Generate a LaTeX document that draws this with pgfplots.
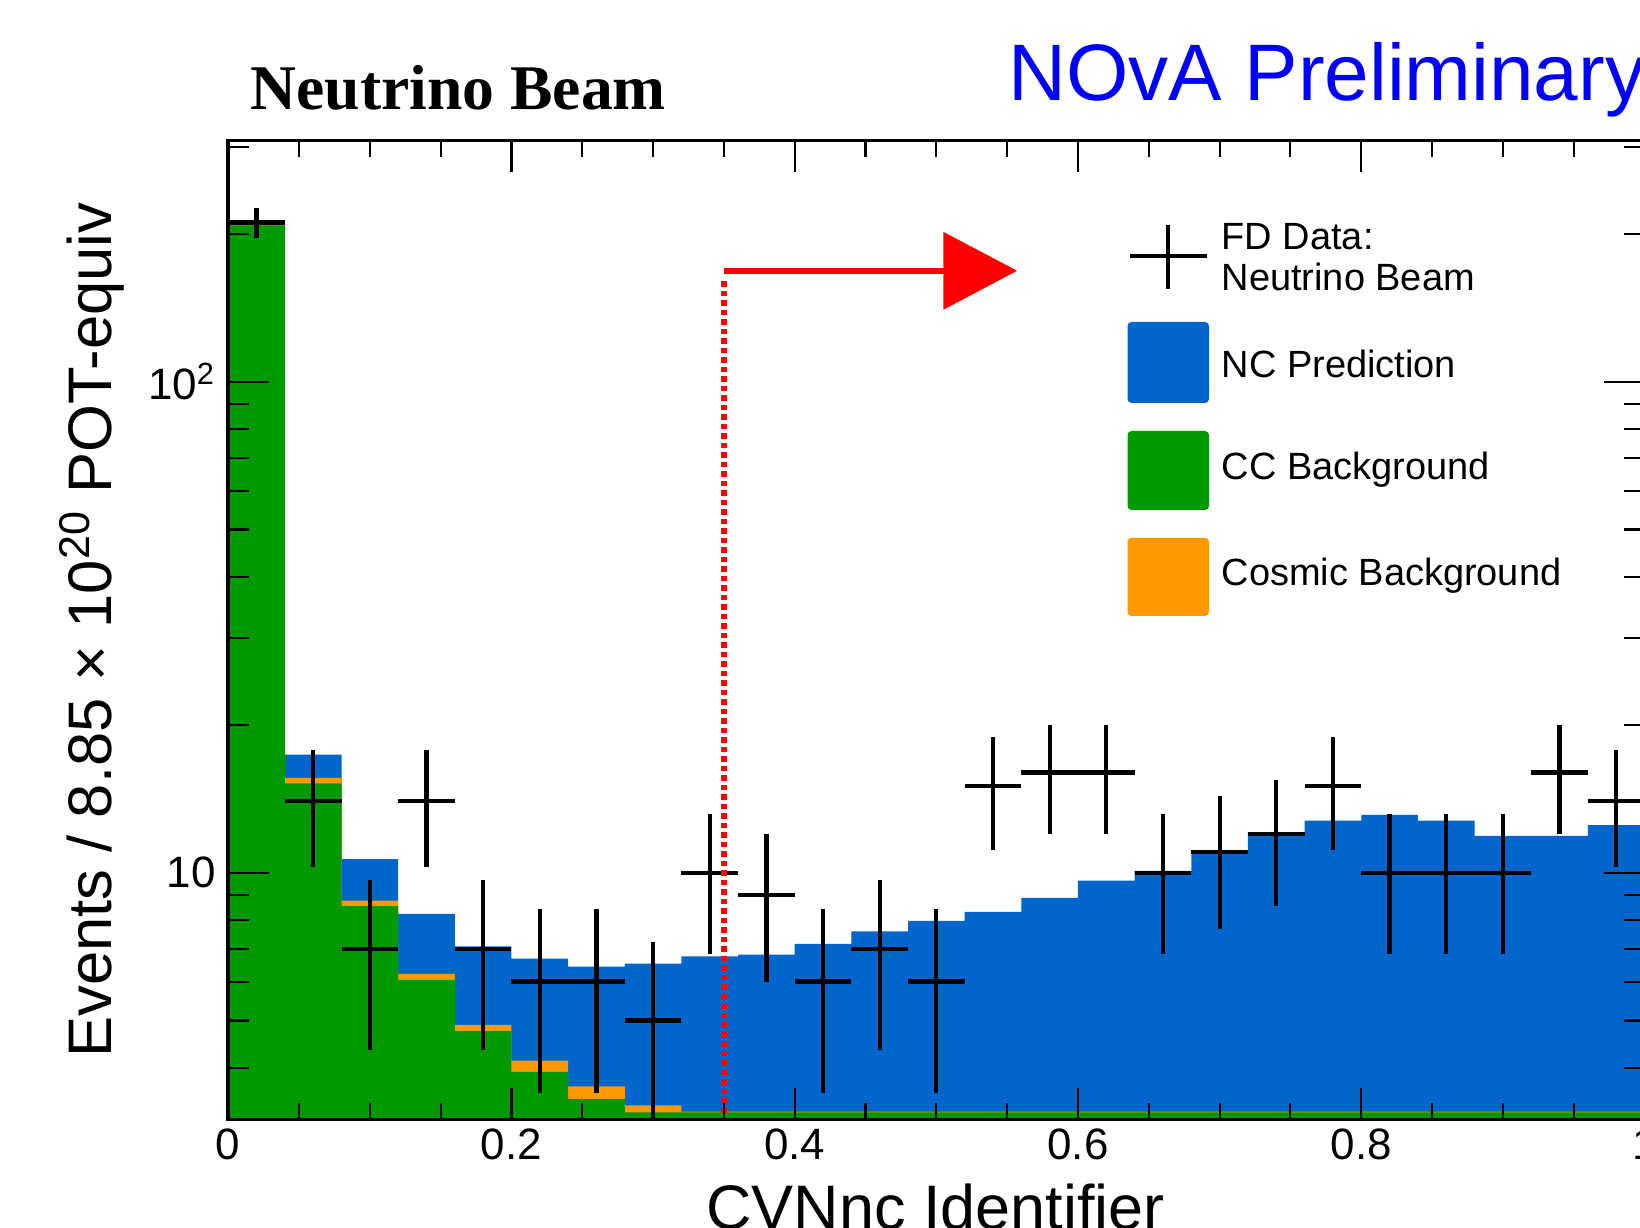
\documentclass[border=0pt]{standalone}
\usepackage{fontspec}
\setmainfont{Liberation Sans}
\newfontfamily\titlefont{Liberation Serif}
\usepackage{pgfplots}
\usepackage{pgfplotstable}
\pgfplotsset{compat=1.18}

\definecolor{ncblue}{RGB}{0,102,204}
\definecolor{ccgreen}{RGB}{0,153,0}
\definecolor{cosorange}{RGB}{255,153,0}

% Stacked prediction, bin lower edges, cumulative tops:
% cc = CC background, cos = CC + cosmic, tot = CC + cosmic + NC
% (last row repeats the final bin to close the step at x = 1)
\pgfplotstableread{
lo    cc     cos    tot
0.00  208    208.5  209
0.04  15.2   15.6   17.4
0.08  8.55   8.77   10.66
0.12  6.05   6.22   8.24
0.16  4.76   4.90   7.08
0.20  3.93   4.14   6.68
0.24  3.46   3.67   6.44
0.28  3.25   3.36   6.53
0.32  3.25   3.26   6.75
0.36  3.25   3.26   6.81
0.40  3.25   3.26   7.16
0.44  3.25   3.26   7.59
0.48  3.25   3.26   7.98
0.52  3.25   3.26   8.32
0.56  3.25   3.26   8.88
0.60  3.25   3.26   9.63
0.64  3.25   3.26   10.09
0.68  3.25   3.26   11.08
0.72  3.25   3.26   12.06
0.76  3.25   3.26   12.76
0.80  3.25   3.26   13.12
0.84  3.25   3.26   12.76
0.88  3.25   3.26   11.88
0.92  3.25   3.26   11.88
0.96  3.25   3.26   12.50
1.00  3.25   3.26   12.50
}\histo

% FD data, bin centres and event counts
\pgfplotstableread{
c     n
0.02  211
0.06  14
0.10  7
0.14  14
0.18  7
0.22  6
0.26  6
0.30  5
0.34  10
0.38  9
0.42  6
0.46  7
0.50  6
0.54  15
0.58  16
0.62  16
0.66  10
0.70  11
0.74  12
0.78  15
0.82  10
0.86  10
0.90  10
0.94  16
0.98  14
}\fddata

\begin{document}
\begin{tikzpicture}
\useasboundingbox (0mm,0mm) rectangle (164mm,-122.8mm);
\clip (0mm,0mm) rectangle (164mm,-122.8mm);

\begin{axis}[
  at={(22.82mm,-111.97mm)}, anchor=south west,
  scale only axis, width=141.63mm, height=97.93mm,
  xmin=0, xmax=1,
  ymode=log, ymin=3.14, ymax=310,
  axis on top,
  axis line style={line width=1pt},
  tick align=inside,
  xtick={0,0.2,0.4,0.6,0.8,1}, minor x tick num=3,
  ytick={10,100}, yticklabels={10,10\textsuperscript{2}},
  minor ytick={4,5,6,7,8,9,20,30,40,50,60,70,80,90,200,300},
  xtick style={black, line width=0.6pt,
    /pgfplots/major tick length=3.2mm, /pgfplots/minor tick length=1.7mm},
  ytick style={black, line width=0.6pt,
    /pgfplots/major tick length=4.1mm, /pgfplots/minor tick length=2.1mm},
  /pgf/number format/assume math mode=true,
  tick label style={font=\fontsize{12.5}{14}\selectfont},
  xticklabel style={yshift=0.3mm},
]
% stacked prediction, drawn from the total downwards
\addplot[draw=none, fill=ncblue, const plot mark left] table[x=lo, y=tot] {\histo} \closedcycle;
\addplot[draw=none, fill=cosorange, const plot mark left] table[x=lo, y=cos] {\histo} \closedcycle;
\addplot[draw=none, fill=ccgreen, const plot mark left] table[x=lo, y=cc] {\histo} \closedcycle;

% data with bin-width and Poisson error bars (point marker hidden)
\addplot[black, only marks, mark=*, mark size=0.01pt, mark options={opacity=0},
  error bars/.cd, x dir=both, x fixed=0.02, y dir=both, y explicit,
  error mark=none, error bar style={line width=1.2pt, black, opacity=1}]
  table[x=c, y=n, y error expr={sqrt(\thisrow{n})}] {\fddata};

% selection cut
\draw[red, line width=1.9pt, dash pattern=on 0.55mm off 0.4mm]
  (axis cs:0.35,160) -- (axis cs:0.35,3.14);
\draw[red, line width=1.7pt] (axis cs:0.35,168.2) -- (axis cs:0.507,168.2);
\fill[red] (axis cs:0.505,201.8) -- (axis cs:0.557,168.2) -- (axis cs:0.505,140.1) -- cycle;
\end{axis}

% titles and axis labels
\node[anchor=base west, inner sep=0pt, font=\titlefont\bfseries\fontsize{18.1}{20}\selectfont]
  at (25.0mm,-11.0mm) {Neutrino Beam};
\node[anchor=base west, inner sep=0pt, text=blue, font=\fontsize{22.8}{24}\selectfont]
  at (100.8mm,-10.08mm) {NOvA Preliminary};
\node[anchor=base, inner sep=0pt, font=\fontsize{17.9}{20}\selectfont]
  at (93.55mm,-122.9mm) {CVNnc Identifier};
\node[anchor=base, inner sep=0pt, rotate=90, font=\fontsize{17.5}{20}\selectfont]
  at (11.14mm,-63.0mm) {Events / 8.85 × 10\textsuperscript{20} POT-equiv};

% legend
\draw[line width=1.1pt] (112.96mm,-25.6mm) -- (120.7mm,-25.6mm)
                        (116.8mm,-22.5mm) -- (116.8mm,-28.9mm);
\fill[ncblue, rounded corners=0.4mm] (112.75mm,-32.2mm) rectangle (120.9mm,-40.3mm);
\fill[ccgreen, rounded corners=0.4mm] (112.75mm,-43.1mm) rectangle (120.9mm,-51.0mm);
\fill[cosorange, rounded corners=0.4mm] (112.75mm,-53.78mm) rectangle (120.9mm,-61.6mm);
\begin{scope}[every node/.style={anchor=base west, inner sep=0pt, font=\fontsize{10.8}{12}\selectfont}]
\node at (122.1mm,-25.0mm) {FD Data:};
\node at (122.1mm,-29.06mm) {Neutrino Beam};
\node at (122.1mm,-37.76mm) {NC Prediction};
\node at (122.1mm,-48.0mm) {CC Background};
\node at (122.1mm,-58.6mm) {Cosmic Background};
\end{scope}
\end{tikzpicture}
\end{document}
